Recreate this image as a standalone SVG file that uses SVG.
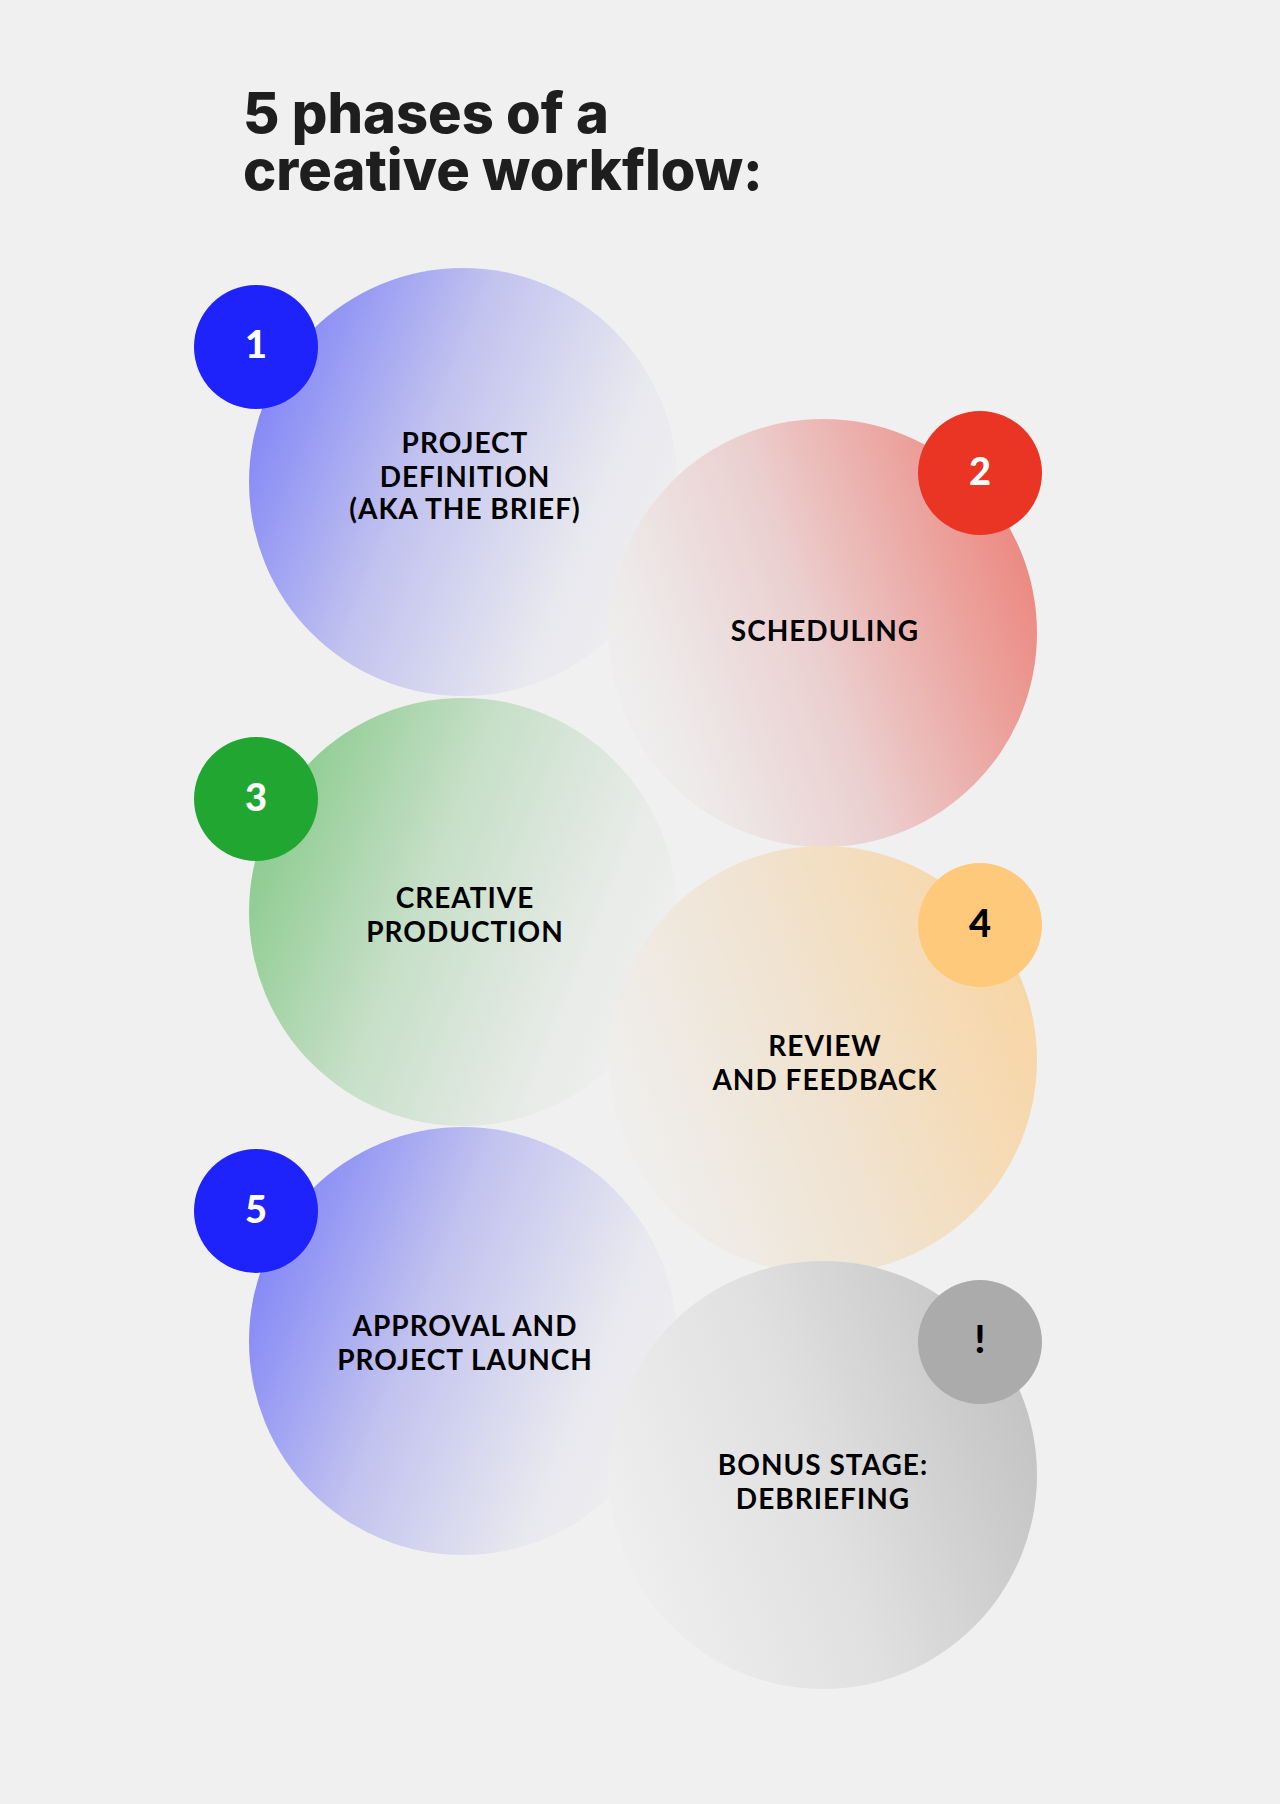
<svg xmlns="http://www.w3.org/2000/svg" width="1280" height="1804" viewBox="0 0 1280 1804">
<defs>
<linearGradient id="gBlue" x1="0" y1="0.3" x2="1" y2="0.7">
<stop offset="0" stop-color="#8084f6"/>
<stop offset="0.4" stop-color="#c2c3ef"/>
<stop offset="0.78" stop-color="#e8e8ef"/>
<stop offset="1" stop-color="#f0f0f0"/>
</linearGradient>
<linearGradient id="gRed" x1="1" y1="0.4" x2="0" y2="0.75">
<stop offset="0" stop-color="#ec8a82"/>
<stop offset="0.5" stop-color="#ebcfcf"/>
<stop offset="0.85" stop-color="#eeeaea"/>
<stop offset="1" stop-color="#efefef"/>
</linearGradient>
<linearGradient id="gGreen" x1="0" y1="0.3" x2="1" y2="0.7">
<stop offset="0" stop-color="#88ca8b"/>
<stop offset="0.4" stop-color="#c6dfc7"/>
<stop offset="0.78" stop-color="#e8ebe8"/>
<stop offset="1" stop-color="#f0f0f0"/>
</linearGradient>
<linearGradient id="gOrange" x1="1" y1="0.4" x2="0" y2="0.75">
<stop offset="0" stop-color="#f8d6a6"/>
<stop offset="0.5" stop-color="#f0e3d1"/>
<stop offset="0.85" stop-color="#efece8"/>
<stop offset="1" stop-color="#f0f0f0"/>
</linearGradient>
<linearGradient id="gGray" x1="1" y1="0.4" x2="0" y2="0.75">
<stop offset="0" stop-color="#c4c4c4"/>
<stop offset="0.5" stop-color="#e0e0e0"/>
<stop offset="1" stop-color="#f0f0f0"/>
</linearGradient>
</defs>
<style>
.title{font-family:Inter,"Liberation Sans",sans-serif;font-weight:800;font-size:56px;fill:#1e1e1e;letter-spacing:0px}
.lbl{font-family:Lato,"Noto Sans",sans-serif;font-weight:700;font-size:28px;fill:#000;text-anchor:middle;letter-spacing:1px}
.num{font-family:Lato,"Noto Sans",sans-serif;font-weight:900;font-size:38px;text-anchor:middle}
.w{fill:#fff}
.k{fill:#000}
</style>
<rect width="1280" height="1804" fill="#f0f0f0"/>
<g id="title">
<text class="title" x="243" y="133">5 phases of a</text>
<text class="title" x="243" y="190">creative workflow:</text>
</g>
<g id="connectors"/>
<g id="phase1">
<circle cx="463" cy="482" r="214" fill="url(#gBlue)"/>
<text class="lbl" x="465" y="453">PROJECT</text>
<text class="lbl" x="465" y="487">DEFINITION</text>
<text class="lbl" x="465" y="519">(AKA THE BRIEF)</text>
</g>
<g id="phase2">
<circle cx="823" cy="633" r="214" fill="url(#gRed)"/>
<text class="lbl" x="825" y="641">SCHEDULING</text>
</g>
<g id="phase3">
<circle cx="463" cy="912" r="214" fill="url(#gGreen)"/>
<text class="lbl" x="465" y="908">CREATIVE</text>
<text class="lbl" x="465" y="942">PRODUCTION</text>
</g>
<g id="phase4">
<circle cx="823" cy="1060" r="214" fill="url(#gOrange)"/>
<text class="lbl" x="825" y="1056">REVIEW</text>
<text class="lbl" x="825" y="1090">AND FEEDBACK</text>
</g>
<g id="phase5">
<circle cx="463" cy="1341" r="214" fill="url(#gBlue)"/>
<text class="lbl" x="465" y="1336">APPROVAL AND</text>
<text class="lbl" x="465" y="1370">PROJECT LAUNCH</text>
</g>
<g id="bonus">
<circle cx="823" cy="1475" r="214" fill="url(#gGray)"/>
<text class="lbl" x="823" y="1475">BONUS STAGE:</text>
<text class="lbl" x="823" y="1509">DEBRIEFING</text>
</g>
<g id="badge1"><circle cx="256" cy="347" r="62" fill="#1e22fb"/><text class="num w" x="256" y="358">1</text></g>
<g id="badge2"><circle cx="980" cy="473" r="62" fill="#ea3424"/><text class="num w" x="980" y="485">2</text></g>
<g id="badge3"><circle cx="256" cy="799" r="62" fill="#21a731"/><text class="num w" x="256" y="811">3</text></g>
<g id="badge4"><circle cx="980" cy="925" r="62" fill="#ffc97b"/><text class="num k" x="980" y="937">4</text></g>
<g id="badge5"><circle cx="256" cy="1211" r="62" fill="#1e22fb"/><text class="num w" x="256" y="1223">5</text></g>
<g id="badge6"><circle cx="980" cy="1342" r="62" fill="#ababab"/><text class="num k" x="980" y="1353">!</text></g>
</svg>
